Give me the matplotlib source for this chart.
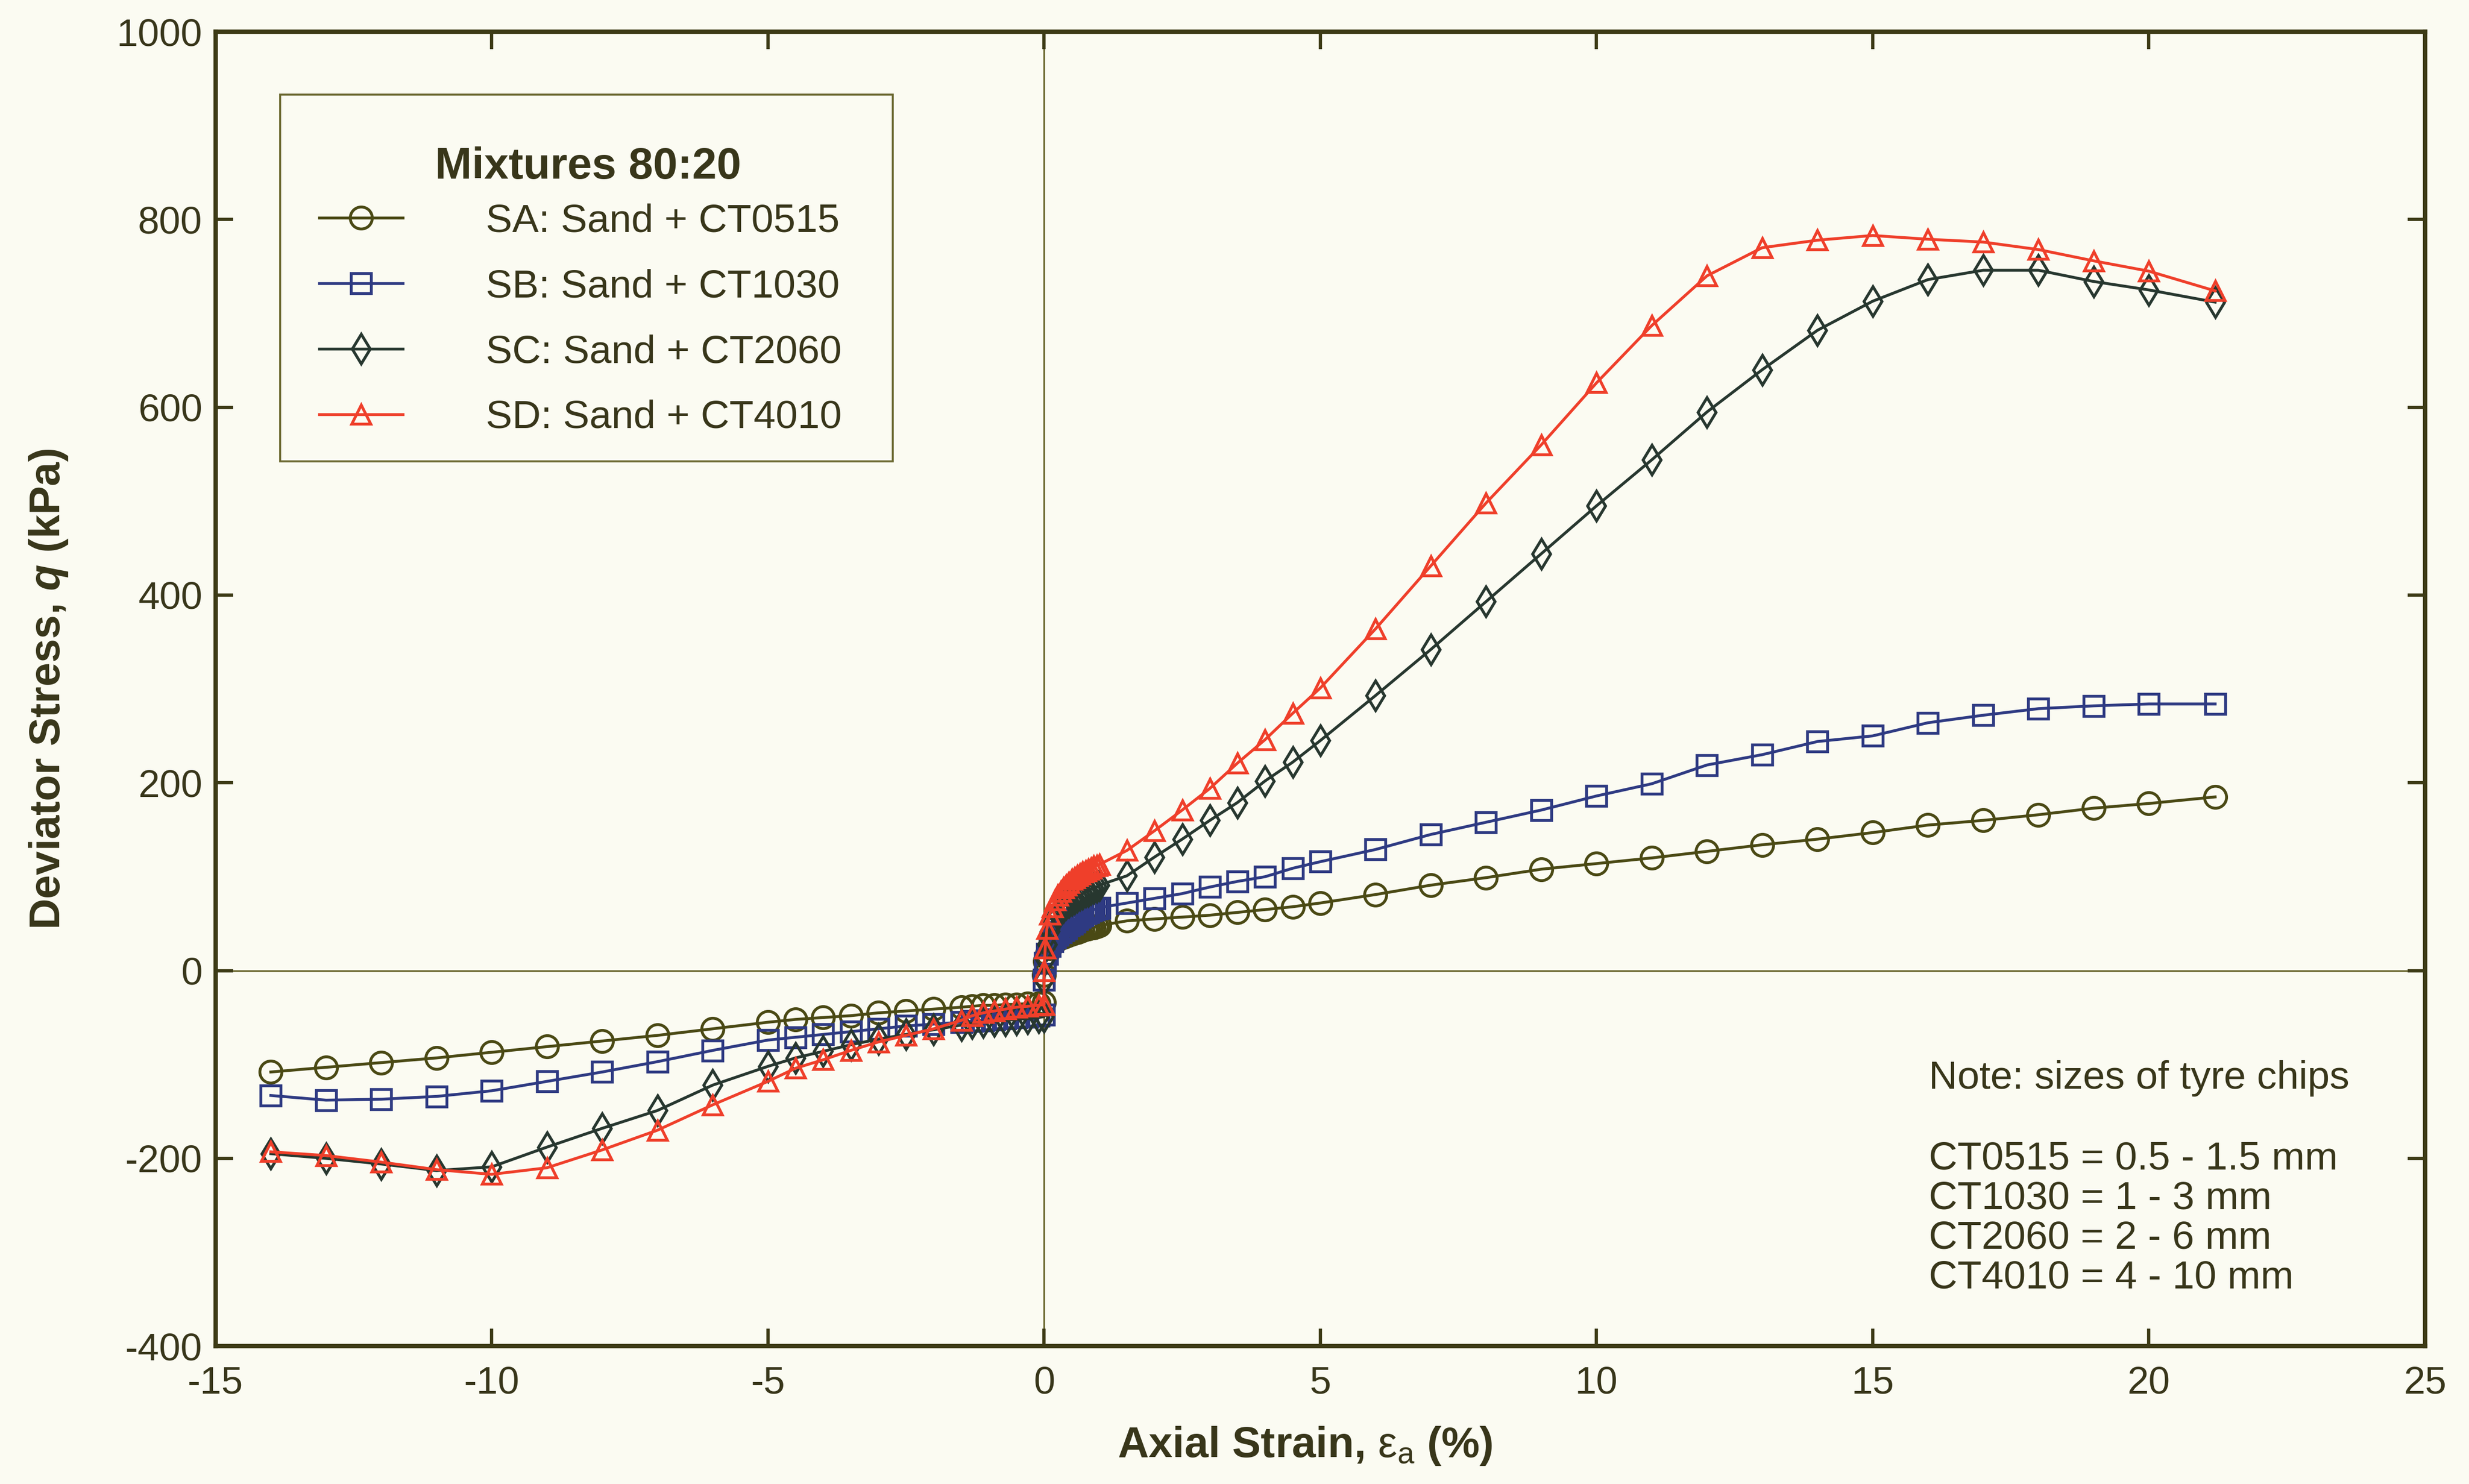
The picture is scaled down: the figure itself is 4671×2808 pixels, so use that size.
import matplotlib
matplotlib.use("Agg")
import matplotlib.pyplot as plt
from matplotlib.patches import Rectangle

# axial strain (%) - extension side then compression side
strain_neg = [-14, -13, -12, -11, -10, -9, -8, -7, -6, -5, -4.5, -4, -3.5, -3, -2.5, -2, -1.5,
              -1.3, -1.1, -0.9, -0.7, -0.5, -0.3, -0.1, 0]
strain_pos = [0, 0.02, 0.05, 0.1, 0.15, 0.2, 0.25, 0.3, 0.35, 0.4, 0.45, 0.5, 0.55, 0.6, 0.65,
              0.7, 0.75, 0.8, 0.85, 0.9, 0.95, 1.0, 1.5, 2, 2.5, 3, 3.5, 4, 4.5, 5,
              6, 7, 8, 9, 10, 11, 12, 13, 14, 15, 16, 17, 18, 19, 20, 21.2]

# deviator stress q (kPa)
sa_neg = [-108, -103, -98, -93, -87, -81, -75, -69, -62, -55, -52, -50, -48, -45, -43, -41, -39,
          -38, -37, -37, -36, -36, -35, -35, -34]
sa_pos = [-5, 10, 18, 24, 28, 31, 33, 35, 36, 37, 38, 39, 40, 41, 42, 43, 44, 45, 46, 46, 47, 48,
          53, 55, 57, 59, 62, 65, 68, 72, 81, 91, 99, 108, 114, 120, 127, 134, 140, 147,
          155, 160, 166, 173, 178, 185]

sb_neg = [-133, -138, -137, -134, -128, -118, -108, -97, -85, -74, -71, -68, -65, -62, -59, -57, -55,
          -54, -53, -52, -51, -50, -49, -48, -47]
sb_pos = [-10, 8, 18, 26, 31, 35, 38, 41, 43, 45, 48, 50, 52, 55, 57, 59, 61, 62, 64, 65, 66, 67,
          72, 77, 82, 89, 95, 100, 109, 116, 129, 145, 158, 171, 186, 199, 219, 230, 244, 250,
          264, 272, 279, 282, 284, 284]

sc_neg = [-195, -200, -206, -213, -209, -188, -168, -149, -122, -102, -93, -86, -79, -73, -68, -63, -58,
          -56, -55, -54, -53, -52, -51, -50, -49]
sc_pos = [-10, 12, 28, 42, 50, 56, 61, 65, 68, 71, 73, 75, 77, 79, 81, 82, 84, 85, 87, 88, 89, 91,
          101, 121, 140, 160, 179, 202, 222, 245, 293, 342, 393, 444, 495, 544, 595, 640, 682, 713,
          736, 746, 746, 734, 725, 712]

sd_neg = [-193, -197, -204, -212, -217, -210, -191, -170, -143, -118, -104, -95, -85, -76, -69, -62, -53,
          -48, -45, -43, -41, -39, -38, -37, -36]
sd_pos = [0, 24, 45, 60, 68, 75, 80, 84, 88, 91, 94, 97, 99, 101, 103, 105, 106, 108, 109, 111, 112, 113,
          128, 149, 171, 194, 221, 246, 274, 301, 364, 431, 498, 560, 626, 687, 740, 770, 778, 783,
          779, 776, 768, 756, 745, 724]

series_names = ["SA: Sand + CT0515", "SB: Sand + CT1030", "SC: Sand + CT2060", "SD: Sand + CT4010"]
legend_title = "Mixtures 80:20"
note_title = "Note: sizes of tyre chips"
note_lines = ["CT0515 = 0.5 - 1.5 mm", "CT1030 = 1 - 3 mm", "CT2060 = 2 - 6 mm", "CT4010 = 4 - 10 mm"]

bg = "#fbfbf2"
txt = "#38361a"
axcol = "#3d3b16"
olive = "#6b6830"

plt.rcParams["font.family"] = ["Liberation Sans", "DejaVu Sans"]
plt.rcParams["axes.unicode_minus"] = False
plt.rcParams["mathtext.fontset"] = "custom"
plt.rcParams["mathtext.rm"] = "Liberation Sans"
plt.rcParams["mathtext.it"] = "Liberation Sans:italic"
plt.rcParams["mathtext.bf"] = "Liberation Sans:bold"
plt.rcParams["mathtext.bfit"] = "Liberation Sans:bold:italic"

fig = plt.figure(figsize=(4671 / 300, 2808 / 300), dpi=300, facecolor=bg)
ax = fig.add_axes([0.0873, 0.0929, 0.8949, 0.8857], facecolor=bg)

ax.axhline(0, color=olive, lw=0.8, zorder=1)
ax.axvline(0, color=olive, lw=0.8, zorder=1)

styles = [
    (sa_neg, sa_pos, "o", "#4a4914", 10),
    (sb_neg, sb_pos, "s", "#2e3a82", 9),
    (sc_neg, sc_pos, "d", "#27372f", 9.5),
    (sd_neg, sd_pos, "^", "#ef3f2a", 8.5),
]
for name, (qn, qp, mk, col, ms) in zip(series_names, styles):
    ax.plot(strain_neg + strain_pos, qn + qp, marker=mk, color=col, mfc="none", mec=col,
            ms=ms, mew=1.3, lw=1.3, label=name, zorder=3)

ax.set_xlim(-15, 25)
ax.set_ylim(-400, 1000)
ax.set_xticks(range(-15, 26, 5))
ax.set_yticks(range(-400, 1001, 200))

for s in ax.spines.values():
    s.set_color(axcol)
    s.set_linewidth(2)

ax.tick_params(which="major", direction="in", top=True, right=True, length=8, width=1.5,
               color=axcol, labelsize=17.5, labelcolor=txt)
ax.tick_params(axis="x", pad=9)
ax.tick_params(axis="y", pad=6)

ax.set_xlabel(r"Axial Strain, $\mathrm{\varepsilon}_\mathrm{a}$ (%)", fontsize=19.5,
              fontweight="bold", color=txt)
ax.set_ylabel(r"Deviator Stress, $\mathbfit{q}$ (kPa)", fontsize=19.5, fontweight="bold", color=txt)
ax.xaxis.set_label_coords(0.493, -0.06)
ax.yaxis.set_label_coords(-0.066, 0.5)

# legend: frame and title drawn separately to match the original spacing
ax.add_patch(Rectangle((0.0292, 0.673), 0.2773, 0.279, transform=ax.transAxes,
                       facecolor=bg, edgecolor=olive, lw=0.9, zorder=4))
ax.text(0.1686, 0.897, legend_title, transform=ax.transAxes, fontsize=20, fontweight="bold",
        color=txt, ha="center", va="center", zorder=5)
leg = ax.legend(loc="center left", bbox_to_anchor=(0.047, 0.781), borderaxespad=0,
                fontsize=18, frameon=False, borderpad=0, handlelength=2.1, handletextpad=2.1,
                labelspacing=0.73, labelcolor=txt)
leg.set_zorder(6)

ax.text(0.7755, 0.2036, note_title, transform=ax.transAxes, fontsize=18, color=txt, va="center")
for i, line in enumerate(note_lines):
    ax.text(0.7755, 0.1425 - i * 0.0302, line, transform=ax.transAxes, fontsize=18,
            color=txt, va="center")

fig.savefig("out.png", dpi=300, facecolor=bg)
